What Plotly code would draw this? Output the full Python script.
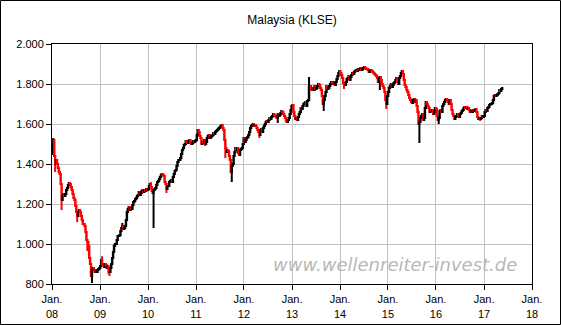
import pandas as pd
import plotly.graph_objects as go

# weekly closes (Friday weeks)
close_2008 = [1500, 1520, 1440, 1400,
              1420, 1400, 1380, 1360, 1350,
              1300, 1220, 1240, 1250,
              1240, 1250, 1270, 1280,
              1295, 1305, 1300, 1285, 1270,
              1250, 1230, 1220, 1190,
              1160, 1140, 1160, 1170,
              1160, 1140, 1120, 1100, 1100,
              1090, 1060, 1020, 1010,
              990, 930, 900, 840, 870,
              880, 870, 860, 866,
              860, 870, 875, 880]
close_2009 = [890, 920, 900, 895, 885,
              900, 895, 880, 890,
              865, 860, 880, 900,
              930, 960, 990, 1000,
              1000, 1020, 1040, 1040, 1045,
              1065, 1080, 1090, 1075,
              1080, 1090, 1120, 1160, 1175,
              1185, 1170, 1180, 1175,
              1195, 1210, 1215, 1225,
              1230, 1240, 1245, 1260, 1245,
              1255, 1265, 1270, 1260,
              1270, 1265, 1275, 1270]
close_2010 = [1275, 1290, 1300, 1285, 1265,
              1255, 1270, 1275, 1280,
              1295, 1310, 1315, 1325,
              1335, 1345, 1350, 1345, 1340,
              1310, 1300, 1275, 1290,
              1290, 1310, 1315, 1320,
              1310, 1335, 1350, 1365, 1370,
              1390, 1410, 1420, 1420,
              1430, 1450, 1470, 1480,
              1495, 1500, 1515, 1510, 1505,
              1515, 1520, 1510, 1500,
              1505, 1515, 1510, 1515, 1520]
close_2011 = [1545, 1570, 1560, 1540,
              1530, 1500, 1510, 1505,
              1520, 1500, 1510, 1530,
              1540, 1545, 1530, 1535, 1540,
              1545, 1555, 1550, 1560,
              1565, 1570, 1575, 1580,
              1585, 1590, 1595, 1580, 1570,
              1520, 1480, 1460, 1470,
              1465, 1440, 1420, 1360, 1390,
              1400, 1440, 1460, 1480,
              1470, 1480, 1455, 1445,
              1470, 1475, 1480, 1500, 1530]
close_2012 = [1510, 1520, 1530, 1535,
              1545, 1560, 1580, 1590,
              1595, 1600, 1590, 1595, 1590,
              1580, 1570, 1560, 1545,
              1570, 1575, 1560, 1580,
              1590, 1600, 1610, 1615, 1610,
              1620, 1630, 1625, 1635,
              1640, 1650, 1645, 1640, 1635,
              1630, 1650, 1640, 1645,
              1655, 1665, 1660, 1650,
              1640, 1630, 1615, 1610, 1620,
              1630, 1650, 1670, 1690]
close_2013 = [1695, 1660, 1640, 1625,
              1630, 1620, 1635, 1650,
              1660, 1680, 1675, 1690, 1700,
              1705, 1710, 1690, 1715,
              1720, 1785, 1790, 1775, 1770,
              1780, 1770, 1790, 1775,
              1780, 1790, 1800, 1795,
              1780, 1770, 1740, 1700, 1720,
              1740, 1760, 1790, 1775,
              1780, 1790, 1800, 1810,
              1805, 1800, 1810, 1795, 1810,
              1825, 1840, 1855, 1865]
close_2014 = [1855, 1845, 1830, 1805, 1800,
              1795, 1810, 1825, 1830,
              1840, 1820, 1835, 1845,
              1855, 1850, 1860, 1865,
              1870, 1865, 1875, 1870, 1875,
              1880, 1870, 1875, 1880,
              1885, 1880, 1875, 1875,
              1870, 1860, 1865, 1870, 1865,
              1860, 1855, 1850, 1845,
              1840, 1830, 1810, 1830, 1835,
              1820, 1800, 1790, 1780,
              1760, 1720, 1700, 1740]
close_2015 = [1760, 1780, 1790, 1800, 1785,
              1795, 1805, 1810, 1820,
              1830, 1810, 1800, 1830,
              1840, 1855, 1865, 1850,
              1820, 1795, 1785, 1770, 1760,
              1745, 1730, 1720, 1710,
              1705, 1720, 1725, 1710, 1720,
              1690, 1660, 1600, 1610,
              1630, 1640, 1650, 1620,
              1630, 1680, 1710, 1700, 1690,
              1680, 1660, 1670, 1665,
              1670, 1650, 1660, 1680]
close_2016 = [1675, 1640, 1620, 1630, 1665,
              1670, 1660, 1690, 1700,
              1710, 1720, 1725, 1720,
              1710, 1700, 1720, 1700, 1670,
              1650, 1640, 1625, 1635,
              1640, 1650, 1645, 1635,
              1650, 1655, 1665, 1670, 1680,
              1685, 1680, 1685, 1675,
              1680, 1670, 1660, 1665, 1660,
              1670, 1665, 1670, 1675,
              1660, 1635, 1625, 1630,
              1625, 1630, 1640, 1635, 1640]
close_2017 = [1660, 1670, 1665, 1680,
              1685, 1695, 1700, 1700,
              1705, 1720, 1740, 1745, 1740,
              1745, 1750, 1755, 1770,
              1765, 1775, 1780]

first_open = 1450
start_week = "2008-01-04"

# notable weekly extremes (wicks)
low_spikes = {"2008-01-25": 1360, "2008-03-14": 1170, "2008-07-11": 1110,
              "2008-09-26": 965, "2008-10-31": 805, "2009-01-09": 885,
              "2009-03-06": 850, "2009-03-13": 840, "2010-02-12": 1080,
              "2010-05-21": 1255, "2011-03-11": 1490, "2011-08-12": 1430,
              "2011-09-30": 1310, "2012-04-27": 1530, "2012-09-14": 1605,
              "2013-08-30": 1665, "2014-01-31": 1775, "2014-10-31": 1770,
              "2014-12-19": 1675, "2015-08-28": 1505, "2016-01-22": 1600,
              "2016-05-20": 1620, "2016-12-02": 1615}
high_spikes = {"2008-01-11": 1530, "2009-01-16": 939, "2009-06-19": 1105,
               "2010-01-22": 1310, "2013-05-10": 1835, "2014-07-04": 1890,
               "2015-04-17": 1870}

y_tickvals = [800, 1000, 1200, 1400, 1600, 1800, 2000]
y_ticktext = ["800", "1.000", "1.200", "1.400", "1.600", "1.800", "2.000"]
x_years = list(range(2008, 2019))
x_ticktext = ["Jan.<br>%02d" % (y % 100) for y in x_years]

closes = (close_2008 + close_2009 + close_2010 + close_2011 + close_2012 +
          close_2013 + close_2014 + close_2015 + close_2016 + close_2017)
dates = pd.date_range(start_week, periods=len(closes), freq="W-FRI")
opens = [first_open] + closes[:-1]
highs = [max(o, c) for o, c in zip(opens, closes)]
lows = [min(o, c) for o, c in zip(opens, closes)]
keys = [d.strftime("%Y-%m-%d") for d in dates]
for i, k in enumerate(keys):
    if k in low_spikes:
        lows[i] = min(lows[i], low_spikes[k])
    if k in high_spikes:
        highs[i] = max(highs[i], high_spikes[k])

fig = go.Figure(go.Candlestick(
    x=dates, open=opens, high=highs, low=lows, close=closes,
    increasing=dict(line=dict(color="black", width=2), fillcolor="black"),
    decreasing=dict(line=dict(color="#ff0000", width=2), fillcolor="#ff0000"),
    whiskerwidth=0, showlegend=False,
))

W, H = 561, 325
L, R, T, B = 52, 29, 44, 41
pw, ph = W - L - R, H - T - B

def px_x(p):
    return (p - L) / pw

def px_y(p):
    return (H - B - p) / ph

font = dict(family="Liberation Sans, Arial, sans-serif", size=11, color="black")

fig.update_layout(
    width=W, height=H,
    margin=dict(l=L, r=R, t=T, b=B, pad=0, autoexpand=False),
    paper_bgcolor="white", plot_bgcolor="white",
    font=font,
    title=dict(text="Malaysia (KLSE)", x=0.5, xref="paper", xanchor="center",
               y=1 - 20 / H, yanchor="middle",
               font=dict(family="Liberation Sans, Arial, sans-serif", size=12, color="black")),
    xaxis=dict(
        type="date", range=["2008-01-01", "2018-01-01"],
        tickvals=[f"{y}-01-01" for y in x_years], ticktext=x_ticktext,
        showgrid=True, gridcolor="#c0c0c0", gridwidth=1,
        showline=True, linecolor="black", linewidth=1, mirror=True,
        ticks="outside", ticklen=5, tickcolor="black", automargin=False,
        rangeslider=dict(visible=False), zeroline=False, tickfont=font,
    ),
    yaxis=dict(
        range=[800, 2000], tickvals=y_tickvals, ticktext=y_ticktext,
        showgrid=True, gridcolor="#c0c0c0", gridwidth=1,
        showline=True, linecolor="black", linewidth=1, mirror=True,
        ticks="outside", ticklen=5, tickcolor="black", zeroline=False,
        automargin=False, tickfont=font,
    ),
    annotations=[dict(
        text="<i>www.wellenreiter-invest.de</i>", xref="paper", yref="paper",
        x=px_x(395), y=px_y(264), xanchor="center", yanchor="middle",
        showarrow=False,
        font=dict(family="DejaVu Sans, Verdana, sans-serif", size=18, color="#b8b8b8"),
    )],
    shapes=[dict(type="rect", xref="paper", yref="paper",
                 x0=px_x(0.5), x1=px_x(W - 0.5), y0=px_y(H - 0.5), y1=px_y(0.5),
                 line=dict(color="black", width=1), fillcolor="rgba(0,0,0,0)",
                 layer="above")],
)

fig.write_html("out.html")
